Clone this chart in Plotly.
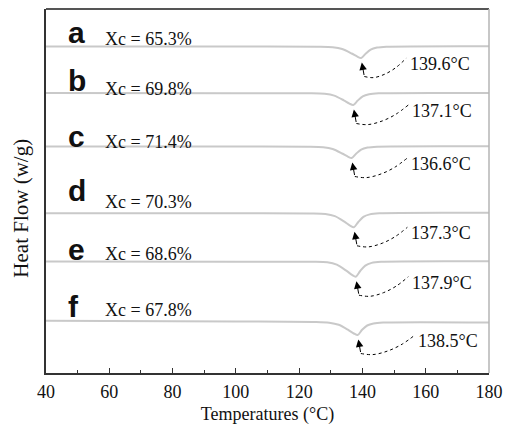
import plotly.graph_objects as go

# DSC melting curves (heat flow offset per sample, arbitrary units)
samples = ["a", "b", "c", "d", "e", "f"]
crystallinity = ["Xc = 65.3%", "Xc = 69.8%", "Xc = 71.4%", "Xc = 70.3%", "Xc = 68.6%", "Xc = 67.8%"]
peak_temp = [139.6, 137.1, 136.6, 137.3, 137.9, 138.5]

temp_a = [40, 100, 125.6, 130.6, 133.6, 136.6, 138.4, 139.6, 141.0, 142.6, 144.6, 147.6, 180]
flow_a = [32.66, 32.64, 32.63, 32.58, 32.40, 31.95, 31.64, 31.50, 31.93, 32.34, 32.54, 32.63, 32.68]

temp_b = [40, 100, 123.1, 128.1, 131.1, 134.1, 135.9, 137.1, 138.5, 140.1, 142.1, 145.1, 180]
flow_b = [28.00, 27.98, 27.97, 27.92, 27.74, 27.27, 26.94, 26.80, 27.24, 27.67, 27.88, 27.97, 28.00]

temp_c = [40, 100, 122.6, 127.6, 130.6, 133.6, 135.4, 136.6, 138.0, 139.6, 141.6, 144.6, 180]
flow_c = [22.65, 22.64, 22.63, 22.58, 22.40, 21.95, 21.64, 21.50, 21.93, 22.34, 22.54, 22.63, 22.67]

temp_d = [40, 100, 123.3, 128.3, 131.3, 134.3, 136.1, 137.3, 138.7, 140.3, 142.3, 145.3, 180]
flow_d = [15.97, 15.97, 15.96, 15.91, 15.69, 15.13, 14.74, 14.57, 15.10, 15.61, 15.86, 15.97, 16.02]

temp_e = [40, 100, 123.9, 128.9, 131.9, 134.9, 136.7, 137.9, 139.3, 140.9, 142.9, 145.9, 180]
flow_e = [11.15, 11.13, 11.12, 11.07, 10.83, 10.23, 9.81, 9.63, 10.20, 10.74, 11.01, 11.12, 11.17]

temp_f = [40, 100, 124.5, 129.5, 132.5, 135.5, 137.3, 138.5, 139.9, 141.5, 143.5, 146.5, 180]
flow_f = [5.22, 5.15, 5.10, 5.03, 4.82, 4.31, 3.95, 3.80, 4.32, 4.75, 4.95, 5.04, 5.05]

x_ticks = [40, 60, 80, 100, 120, 140, 160, 180]

curves = [(temp_a, flow_a), (temp_b, flow_b), (temp_c, flow_c),
          (temp_d, flow_d), (temp_e, flow_e), (temp_f, flow_f)]

# label placement (layout only)
letter_y = [3.30, 2.82, 2.26, 1.72, 1.13, 0.56]          # baselines of sample letters
xc_y = [3.28, 2.78, 2.25, 1.65, 1.13, 0.57]              # baselines of Xc texts
temp_label_x = [154.3, 154.9, 154.6, 154.6, 154.9, 157.0]

SERIF = "Liberation Serif, Times New Roman, serif"
SANS = "Liberation Sans, Arial, sans-serif"

fig = go.Figure()
annotations = []

for i, (t, hf) in enumerate(curves):
    fig.add_trace(go.Scatter(x=t, y=hf, mode="lines",
                             line=dict(color="#c9c9c9", width=2, shape="spline", smoothing=0.8),
                             showlegend=False, hoverinfo="skip"))
    tm = peak_temp[i]
    ymin = min(hf)
    # arrow pointing at the melting peak
    tip_x, tip_y = tm + 0.2, ymin - 0.45
    base_x, base_y = tm + 1.0, ymin - 1.85
    annotations.append(dict(x=tip_x, y=tip_y, ax=base_x, ay=base_y, axref="x", ayref="y",
                            xref="x", yref="y", text="", showarrow=True,
                            arrowhead=2, arrowsize=1.5, arrowwidth=1.0, arrowcolor="#000"))
    # dotted leader from arrow to the temperature label
    lx = temp_label_x[i]
    ly = ymin - 0.6
    end_x, end_y = lx - 0.4, ly + 0.6
    dx, dy = end_x - base_x, end_y - base_y
    fr = [(0, 0), (0.22, -0.06), (0.5, 0.14), (0.76, 0.5), (1, 1)]
    fig.add_trace(go.Scatter(x=[base_x + a * dx for a, b in fr],
                             y=[base_y + b * dy for a, b in fr],
                             mode="lines", line=dict(color="#000", width=1.0, dash="dot", shape="spline"),
                             showlegend=False, hoverinfo="skip"))
    annotations.append(dict(x=lx, y=ly, xref="x", yref="y", text=f"{tm}°C", showarrow=False,
                            xanchor="left", yanchor="middle",
                            font=dict(family=SERIF, size=18, color="#111")))
    annotations.append(dict(x=46.2, y=letter_y[i] * 10 + 1.04, xref="x", yref="y", text=f"<b>{samples[i]}</b>",
                            showarrow=False, xanchor="left", yanchor="middle",
                            font=dict(family=SANS, size=30, color="#111")))
    annotations.append(dict(x=58.0, y=xc_y[i] * 10 + 0.6, xref="x", yref="y", text=crystallinity[i],
                            showarrow=False, xanchor="left", yanchor="middle",
                            font=dict(family=SERIF, size=18, color="#111")))

annotations.append(dict(x=-0.056, y=0.452, xref="paper", yref="paper", text="Heat Flow (w/g)",
                        showarrow=False, xanchor="center", yanchor="middle", textangle=-90,
                        font=dict(family=SERIF, size=21, color="#111")))

fig.update_layout(
    width=510, height=425,
    margin=dict(l=46, r=21, t=9, b=52),
    paper_bgcolor="white", plot_bgcolor="white",
    annotations=annotations,
    shapes=[
        dict(type="line", xref="paper", yref="paper", x0=0, x1=1, y0=1, y1=1,
             line=dict(color="#555", width=2)),
        dict(type="line", xref="paper", yref="paper", x0=1, x1=1, y0=0, y1=1,
             line=dict(color="#b5b5b5", width=1.5)),
    ],
    xaxis=dict(range=[40, 180], tickvals=x_ticks, ticktext=[str(v) for v in x_ticks],
               ticks="inside", ticklen=5, tickwidth=1.2, tickcolor="#333",
               minor=dict(dtick=10, tick0=40, ticks="inside", ticklen=3, tickcolor="#333"),
               showline=True, linecolor="#333", linewidth=1.5, showgrid=False, zeroline=False,
               tickfont=dict(family=SERIF, size=18, color="#111"), ticklabelstandoff=2,
               automargin=False,
               title=dict(text="Temperatures (°C)", standoff=8,
                          font=dict(family=SERIF, size=18, color="#111"))),
    yaxis=dict(range=[0, 36.4], showticklabels=False, ticks="", showline=True,
               linecolor="#333", linewidth=1.5, showgrid=False, zeroline=False,
               automargin=False),
)

fig.write_html("out.html")
